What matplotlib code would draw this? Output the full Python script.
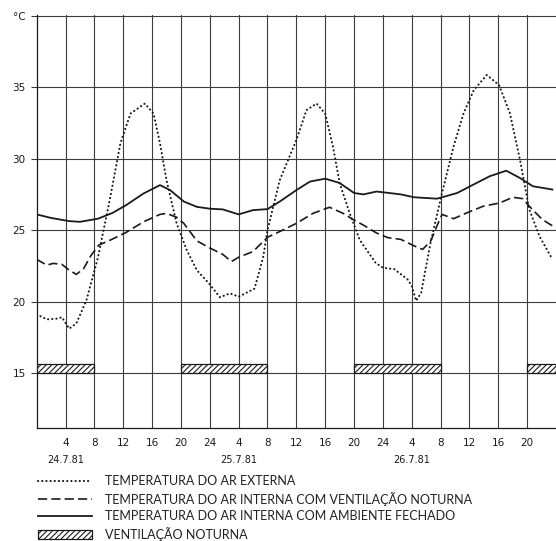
import matplotlib
matplotlib.use('Agg')
import matplotlib.pyplot as plt
from matplotlib.lines import Line2D
from matplotlib.patches import Patch

# Hours since 0h of 24.7.81
hours_ext = [0, 1.4, 2.8, 3.5, 4.5, 5.5, 6.9, 8.5, 10.2, 11.6, 13, 15, 16.2, 17.1,
             18, 19.4, 20.8, 22.2, 24, 25.4, 26.8, 28, 30.2, 31.4, 32, 33.7, 36,
             37.4, 38.8, 40, 41.1, 42, 43.4, 44.8, 47, 48, 49.6, 51.4, 52, 52.6,
             53.3, 54.6, 56.2, 57.8, 59.2, 60.6, 62.4, 64.1, 65.6, 67, 68.3, 69.7,
             71.5]
temp_ext = [19.1, 18.75, 18.8, 18.9, 18.1, 18.47, 20.1, 23.1, 27.3, 31.06, 33.16,
            33.86, 33.16, 31.06, 28.5, 25.47, 23.6, 22.2, 21.2, 20.3, 20.57, 20.34,
            20.9, 23.1, 25.0, 28.5, 31.3, 33.4, 33.86, 33.16, 30.8, 28.3, 26.17,
            24.3, 22.7, 22.37, 22.26, 21.56, 21.1, 20.05, 20.6, 24.1, 27.6, 30.86,
            33.2, 34.8, 35.86, 35.16, 33.2, 29.93, 26.44, 24.58, 22.95]

hours_vent = [0, 1.4, 2.3, 3.5, 4.5, 5.5, 6.5, 7.5, 8.6, 10.2, 12.4, 14.8, 17.1,
              18, 19.4, 20.4, 22.2, 24, 25.8, 27, 28, 30, 32, 33.7, 36, 38.3,
              40.6, 42.5, 44, 45.3, 47.1, 48.7, 50.5, 52.3, 53.5, 54.6, 55.5, 56.2,
              57.8, 59.6, 61.9, 64.2, 66, 67.4, 68.3, 70.1, 71.5]
temp_vent = [22.95, 22.55, 22.67, 22.6, 22.2, 21.9, 22.3, 23.2, 23.95, 24.3, 24.84,
             25.58, 26.1, 26.17, 25.9, 25.47, 24.25, 23.75, 23.3, 22.8, 23.1, 23.5,
             24.5, 24.9, 25.47, 26.17, 26.6, 26.17, 25.7, 25.35, 24.8, 24.47,
             24.35, 23.9, 23.65, 24.2, 25.3, 26.1, 25.8, 26.2, 26.67, 26.9, 27.3,
             27.2, 26.67, 25.74, 25.3]

hours_closed = [0, 2, 4.5, 6, 8.5, 10.5, 12.4, 14.8, 17.1, 18.5, 20.4, 22.2, 24,
                25.8, 28, 30, 32, 33.7, 36, 37.9, 40, 42, 44, 45.3, 47.1, 48, 50.5,
                52.3, 55.5, 58.3, 60.6, 62.8, 65.1, 67, 68.8, 71.5]
temp_closed = [26.1, 25.85, 25.63, 25.58, 25.8, 26.2, 26.75, 27.56, 28.15, 27.8,
               27.0, 26.63, 26.5, 26.45, 26.1, 26.4, 26.47, 27.0, 27.8, 28.4, 28.6,
               28.3, 27.6, 27.5, 27.7, 27.65, 27.5, 27.3, 27.2, 27.6, 28.2, 28.77,
               29.16, 28.65, 28.07, 27.84]

# Night ventilation periods (start hour, duration)
vent_start = [0, 20, 44, 68]
vent_len = [8, 12, 12, 4]

x_ticks = list(range(4, 72, 4))
x_labels = ['4', '8', '12', '16', '20', '24', '4', '8', '12', '16', '20',
            '24', '4', '8', '12', '16', '20']
y_ticks = [15, 20, 25, 30, 35, 40]
y_labels = ['15', '20', '25', '30', '35', '°C']
dates = ['24.7.81', '25.7.81', '26.7.81']
date_pos = [4, 28, 52]

labels = ['TEMPERATURA DO AR EXTERNA',
          'TEMPERATURA DO AR INTERNA COM VENTILAÇÃO NOTURNA',
          'TEMPERATURA DO AR INTERNA COM AMBIENTE FECHADO',
          'VENTILAÇÃO NOTURNA']

plt.rcParams['hatch.linewidth'] = 0.8
ink = '#1a1a1a'
grid = '#3c3c3c'

fig = plt.figure(figsize=(5.56, 5.41), dpi=100)
ax = fig.add_axes([0.066, 0.209, 0.934, 0.763])

dotted = dict(color=ink, lw=1.5, linestyle=(0, (0.1, 1.9)), dash_capstyle='round')
dashed = dict(color=ink, lw=1.2, linestyle=(0, (5.5, 2.5)))
solid = dict(color=ink, lw=1.3)

ax.plot(hours_ext, temp_ext, **dotted)
ax.plot(hours_vent, temp_vent, **dashed)
ax.plot(hours_closed, temp_closed, **solid)

ax.bar(vent_start, [0.65] * len(vent_start), width=vent_len, bottom=15,
       align='edge', facecolor='white', edgecolor=ink, hatch='//////', lw=0.9,
       zorder=3)

ax.set_xlim(0, 72)
ax.set_ylim(11.15, 40.05)
ax.set_xticks(x_ticks)
ax.set_xticklabels(x_labels)
ax.set_yticks(y_ticks)
ax.set_yticklabels(y_labels)
ax.grid(True, color=grid, lw=0.8)
ax.tick_params(axis='x', length=0, pad=7, labelsize=7.5, colors=ink)
ax.tick_params(axis='y', length=4, width=0.8, color=grid, pad=4, labelsize=7.5,
               colors=ink)
for side in ['top', 'right']:
    ax.spines[side].set_visible(False)
for side in ['left', 'bottom']:
    ax.spines[side].set_color(ink)
    ax.spines[side].set_linewidth(0.9)

for d, p in zip(dates, date_pos):
    ax.annotate(d, xy=(p, 0), xycoords=('data', 'axes fraction'),
                xytext=(0, -23), textcoords='offset points',
                ha='center', va='center', fontsize=7, color=ink)

handles = [Line2D([], [], **dotted),
           Line2D([], [], **dashed),
           Line2D([], [], **solid),
           Patch(facecolor='white', edgecolor=ink, hatch='//////', lw=0.9)]
fig.legend(handles, labels, loc='upper left', bbox_to_anchor=(0.068, 0.122),
           frameon=False, borderpad=0, borderaxespad=0, handlelength=4.3,
           handletextpad=1.05, labelspacing=0.38,
           prop={'family': 'Lato', 'size': 9.0}, labelcolor='#222222')

fig.savefig('out.png', dpi=100)
